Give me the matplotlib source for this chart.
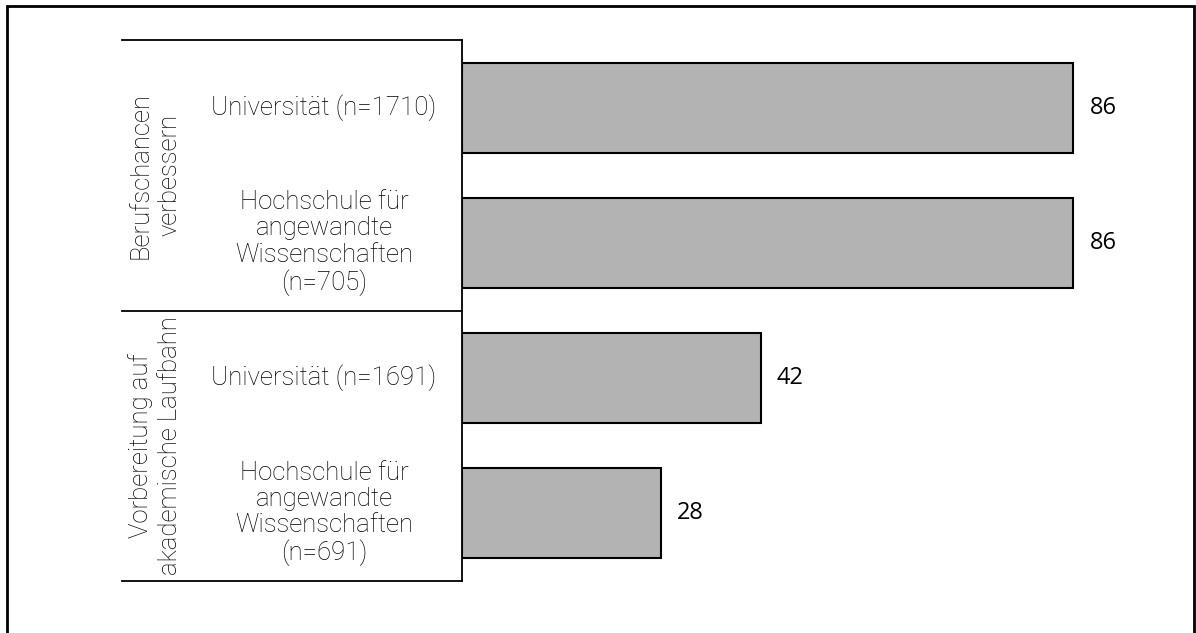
import matplotlib
matplotlib.use('Agg')
import matplotlib.pyplot as plt
from matplotlib.patches import Rectangle

# 数据
groups = ['Berufschancen\nverbessern', 'Vorbereitung auf\nakademische Laufbahn']
categories = ['Universität (n=1710)',
              'Hochschule für\nangewandte\nWissenschaften\n(n=705)',
              'Universität (n=1691)',
              'Hochschule für\nangewandte\nWissenschaften\n(n=691)']
values = [86, 86, 42, 28]

W, H = 1196, 633
fig = plt.figure(figsize=(W / 100, H / 100), dpi=100)

# 绘图区（像素位置换算）
ax_left, ax_right, ax_top, ax_bottom = 462, 1173, 40, 581
ax = fig.add_axes([ax_left / W, 1 - ax_bottom / H,
                   (ax_right - ax_left) / W, (ax_bottom - ax_top) / H])

y = list(range(len(values)))
ax.barh(y, values, height=0.667, color='#b3b3b3', edgecolor='black', linewidth=1.5)
ax.set_xlim(0, 100)
ax.set_ylim(len(values) - 0.5, -0.5)

for s in ['top', 'right', 'bottom']:
    ax.spines[s].set_visible(False)
ax.spines['left'].set_linewidth(1.3)
ax.set_xticks([])
ax.set_yticks([])

# 数值标签
for yi, v in zip(y, values):
    ax.annotate(str(v), (v, yi), xytext=(11.5, 0), textcoords='offset points',
                va='center', ha='left', fontsize=17, family='Open Sans', color='black')

def px2ax(px):
    return (px - ax_left) / (ax_right - ax_left)

tr = ax.get_yaxis_transform()
# 分组分隔线
for yl in [-0.5, 1.5, 3.5]:
    ax.plot([px2ax(122), 0], [yl, yl], color='black', linewidth=1.3,
            transform=tr, clip_on=False)

# 类别标签
for yi, cat in zip(y, categories):
    ax.text(px2ax(324), yi, cat, transform=tr, ha='center', va='center',
            multialignment='center', fontsize=18.5, family='Roboto',
            fontweight='light', linespacing=1.12, color='black')

# 分组标签
for gi, g in enumerate(groups):
    ax.text(px2ax(155), gi * 2 + 0.5, g, transform=tr, ha='center', va='center',
            rotation=90, multialignment='center', fontsize=18.5, family='Roboto',
            fontweight='light', linespacing=1.3, color='black')

# 外框
fig.patches.append(Rectangle((7 / W, -0.05), (1194 - 7) / W, 1.05 - 6 / H,
                             transform=fig.transFigure, fill=False,
                             edgecolor='black', linewidth=2))

fig.savefig('out.png', dpi=100)
